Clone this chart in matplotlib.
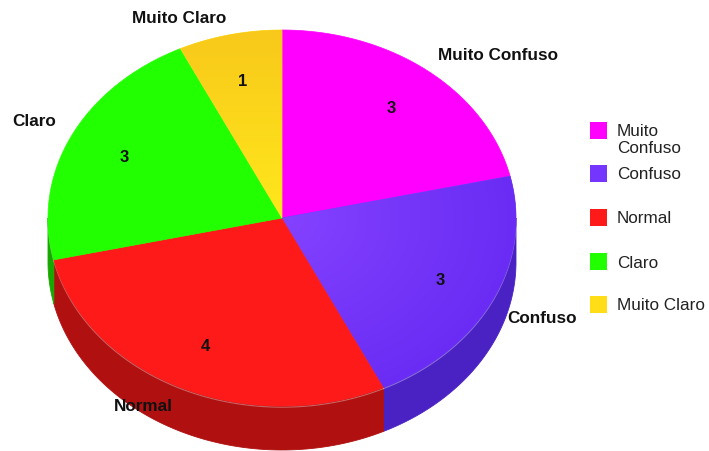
import numpy as np
import matplotlib
matplotlib.use("Agg")
import matplotlib.pyplot as plt
from matplotlib.patches import Polygon, Rectangle
from matplotlib.colors import LinearSegmentedColormap

plt.rcParams['font.family'] = ['Liberation Sans', 'DejaVu Sans']

categories = ["Muito Confuso", "Confuso", "Normal", "Claro", "Muito Claro"]
legend_labels = ["Muito\nConfuso", "Confuso", "Normal", "Claro", "Muito Claro"]
values = [3, 3, 4, 3, 1]
top_colors = ["#ff00ff", "#7436ff", "#ff1a1a", "#22ff00", "#ffde18"]
side_colors = ["#b000b0", "#4a22c4", "#b01010", "#17a800", "#c9a000"]

W, H = 709, 452
fig = plt.figure(figsize=(W / 100, H / 100), dpi=100)
ax = fig.add_axes([0, 0, 1, 1])
ax.set_xlim(0, W)
ax.set_ylim(H, 0)
ax.axis("off")

# ellipse geometry of the pie's top face (pixel units)
cx, cy, rx, ry, depth = 282, 219, 234, 188, 44


def pt(theta_deg, r=1.0, dz=0.0):
    t = np.radians(theta_deg)
    return cx + r * rx * np.cos(t), cy - r * ry * np.sin(t) + dz


total = float(sum(values))
spans = [v / total * 360 for v in values]
# slices run clockwise starting from 12 o'clock
bounds = []
start = 90.0
for s in spans:
    bounds.append((start - s, start))
    start -= s

# side walls (only the front half of the cylinder is visible)
for (a0, a1), col in zip(bounds, side_colors):
    segs = []
    for shift in (-360, 0, 360):
        lo, hi = max(a0 + shift, -180), min(a1 + shift, 0)
        if hi > lo:
            segs.append((lo, hi))
    for lo, hi in segs:
        th = np.linspace(lo, hi, 80)
        top = [pt(t) for t in th]
        bot = [pt(t, dz=depth) for t in th[::-1]]
        ax.add_patch(Polygon(top + bot, closed=True, facecolor=col,
                             edgecolor=col, lw=0.6, zorder=1))
        ax.plot([p[0] for p in top], [p[1] + 1.2 for p in top],
                color="white", alpha=0.35, lw=0.8, zorder=1.5)

# top face wedges
wedges = []
for (a0, a1), col in zip(bounds, top_colors):
    th = np.linspace(a0, a1, 120)
    verts = [(cx, cy)] + [pt(t) for t in th]
    poly = Polygon(verts, closed=True, facecolor=col, edgecolor=col,
                   lw=0.5, zorder=2)
    ax.add_patch(poly)
    wedges.append(poly)

# soft shading on the Confuso and Muito Claro faces
yy, xx = np.mgrid[0:H, 0:W]
rr = np.sqrt(((xx - cx) / rx) ** 2 + ((yy - cy) / ry) ** 2)
cmap_c = LinearSegmentedColormap.from_list("c", ["#8442ff", "#6a2cf4"])
im = ax.imshow(np.clip(rr, 0, 1), cmap=cmap_c, extent=(0, W, H, 0),
               origin="upper", zorder=2.1, vmin=0, vmax=1)
im.set_clip_path(wedges[1])
cmap_y = LinearSegmentedColormap.from_list("y", ["#f8c81a", "#ffe81c"])
grad = (yy - 30) / (cy - 30)
im2 = ax.imshow(np.clip(grad, 0, 1), cmap=cmap_y, extent=(0, W, H, 0),
                origin="upper", zorder=2.1, vmin=0, vmax=1)
im2.set_clip_path(wedges[4])

# value labels inside and category labels outside
for (a0, a1), name, v in zip(bounds, categories, values):
    mid = (a0 + a1) / 2
    c, s = np.cos(np.radians(mid)), np.sin(np.radians(mid))
    x, y = pt(mid, 0.75)
    ax.text(x, y, str(v), ha="center", va="center", fontsize=12,
            fontweight="bold", color="#111111", zorder=5)
    ox = cx + 1.07 * rx * c
    oy = cy - 15 - 1.01 * ry * s + (0.72 * depth if s < 0 else 0)
    ha = "left" if c > 0 else "right"
    ax.text(ox, oy, name, ha=ha, va="center", fontsize=12.3,
            fontweight="bold", color="#111111", zorder=5)

# legend
legend_y = [131, 174, 218, 262, 305]
for lab, col, ly in zip(legend_labels, top_colors, legend_y):
    ax.add_patch(Rectangle((590, ly - 8.5), 17, 17, facecolor=col,
                           edgecolor="none", zorder=5))
    ax.text(617, ly - 6.5, lab, ha="left", va="top", fontsize=12.3,
            color="#222222", linespacing=1.12, zorder=5)

fig.savefig("out.png", dpi=100)
